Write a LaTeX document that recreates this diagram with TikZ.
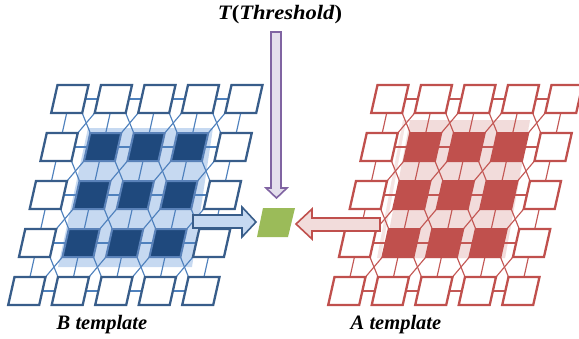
\documentclass[tikz,border=0pt]{standalone}
\usepackage{fontspec}
\setmainfont{Liberation Serif}
\definecolor{cellB}{RGB}{56,93,138}
\definecolor{meshB}{RGB}{79,129,189}
\definecolor{darkB}{RGB}{31,73,125}
\definecolor{glowB}{RGB}{90,130,185}
\definecolor{lightB}{RGB}{198,217,241}
\definecolor{cellA}{RGB}{192,80,77}
\definecolor{meshA}{RGB}{195,88,85}
\definecolor{darkA}{RGB}{192,80,77}
\definecolor{lightA}{RGB}{242,220,219}
\definecolor{purpB}{RGB}{128,100,162}
\definecolor{purpF}{RGB}{228,223,236}
\definecolor{greenF}{RGB}{155,187,89}
\tikzset{
  cellshape/.pic={\path[pic actions] (0,0) -- (31,0) -- (24.7,28) -- (-6.3,28) -- cycle;},
  meshline/.style={line width=1.15pt},
  cellline/.style={line width=2.3pt, line join=miter},
  blockarrow/.style={line width=1.6pt, line join=miter},
  lbl/.style={font=\fontsize{20.5}{24}\selectfont\bfseries\itshape, inner sep=0pt}
}
\newcommand\mygrid[5]{%
\begin{scope}[shift={(#1,85)}]
  \foreach \r in {0,...,4}{\foreach \c in {0,...,3}{
    \draw[meshline,#3] ({43.5*\c-10.75*\r+27.85},{48*\r+14}) -- ({43.5*(\c+1)-10.75*\r-3.15},{48*\r+14});}}
  \foreach \r in {0,...,3}{\foreach \c in {0,...,4}{
    \draw[meshline,#3] ({43.5*\c-10.75*\r+9.2},{48*\r+28}) -- ({43.5*\c-10.75*(\r+1)+15.5},{48*(\r+1)});}}
  \foreach \r in {0,...,3}{\foreach \c in {0,...,3}{
    \draw[meshline,#3] ({43.5*\c-10.75*\r+24.7},{48*\r+28}) -- ({43.5*(\c+1)-10.75*(\r+1)},{48*(\r+1)});
    \draw[meshline,#3] ({43.5*(\c+1)-10.75*\r-6.3},{48*\r+28}) -- ({43.5*\c-10.75*(\r+1)+31},{48*(\r+1)});}}
  \foreach \r in {0,...,4}{\foreach \c in {0,...,4}{
    \pgfmathtruncatemacro\inner{(\r>0)&&(\r<4)&&(\c>0)&&(\c<4)}
    \ifnum\inner=1
      \pic[fill=#4, draw=#5, line width=2pt, line join=miter] at ({43.5*\c-10.75*\r},{48*\r}) {cellshape};
    \else
      \pic[fill=white, draw=#2, cellline] at ({43.5*\c-10.75*\r},{48*\r}) {cellshape};
    \fi}}
\end{scope}}
\begin{document}
\begin{tikzpicture}[x=1pt,y=-1pt]
\useasboundingbox (0,0) rectangle (579,338);
% backgrounds
\fill[lightB] (88,128) -- (213,128) -- (192,267) -- (58,267) -- cycle;
\fill[lightA!75] (403,120) -- (530,120) -- (505,258) -- (377,258) -- cycle;
\fill[white] (406,121) -- (530,121) -- (505,257) -- (381,257) -- cycle;
\fill[lightA] (410,120) -- (530,120) -- (505,258) -- (384,258) -- cycle;
\mygrid{57.5}{cellB}{meshB}{darkB}{glowB}
\mygrid{377.5}{cellA}{meshA}{darkA}{darkA}
% arrows
\draw[blockarrow, draw=purpB, fill=purpF] (271,32) -- (281,32) -- (281,188) -- (287,188) -- (276.5,198) -- (266,188) -- (271,188) -- cycle;
\draw[blockarrow, draw=cellB, fill=lightB] (193,215) -- (242,215) -- (242,207) -- (256,222) -- (242,237) -- (242,228) -- (193,228) -- cycle;
\draw[blockarrow, draw=cellA, fill=lightA] (380,218) -- (312,218) -- (312,209) -- (296,224) -- (312,239) -- (312,231) -- (380,231) -- cycle;
\fill[greenF] (263,208) -- (295,208) -- (288,237) -- (257,237) -- cycle;
% labels
\node[lbl, xscale=1.1] (title) at (280,15) {T\upshape(\itshape Threshold\upshape)};
\node[lbl] (btpl) at (102,325) {B template};
\node[lbl] (atpl) at (396,325) {A template};
\end{tikzpicture}
\end{document}
